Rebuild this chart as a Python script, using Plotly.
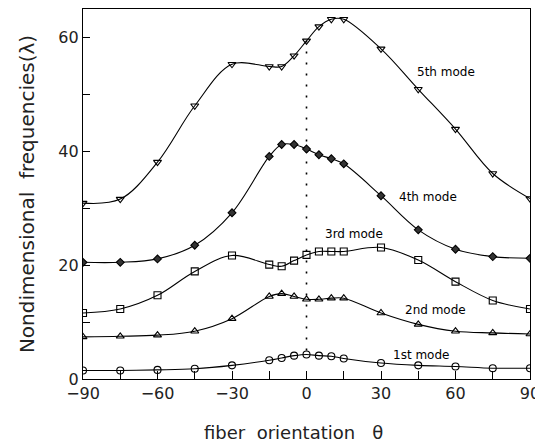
import plotly.graph_objects as go

theta = [-90, -75, -60, -45, -30, -15, -10, -5, 0, 5, 10, 15, 30, 45, 60, 75, 90]

mode1 = [1.5, 1.5, 1.6, 1.8, 2.4, 3.3, 3.7, 4.1, 4.3, 4.1, 4.0, 3.6, 2.8, 2.4, 2.2, 1.9, 1.9]
mode2 = [7.4, 7.5, 7.7, 8.4, 10.6, 14.5, 15.0, 14.5, 14.0, 14.0, 14.2, 14.2, 11.6, 9.6, 8.4, 8.1, 7.9]
mode3 = [11.6, 12.3, 14.7, 18.9, 21.7, 20.1, 19.8, 20.8, 21.8, 22.4, 22.4, 22.4, 23.1, 20.9, 17.1, 13.8, 12.3]
mode4 = [20.5, 20.5, 21.1, 23.5, 29.2, 39.1, 41.2, 41.2, 40.4, 39.4, 38.7, 37.8, 32.2, 26.2, 22.8, 21.5, 21.2]
mode5 = [30.9, 31.6, 38.1, 48.0, 55.3, 54.9, 54.9, 56.8, 59.4, 61.9, 63.2, 63.2, 58.0, 50.9, 43.9, 36.1, 31.7]

series = [
    ("1st mode", mode1, "circle-open"),
    ("2nd mode", mode2, "triangle-up-open"),
    ("3rd mode", mode3, "square-open"),
    ("4th mode", mode4, "diamond"),
    ("5th mode", mode5, "triangle-down-open"),
]

label_x = [46, 52, 19, 49, 56]
label_y = [4.2, 12.2, 25.5, 32.0, 54.0]

ref_angle = 0
ref_span = [5, 61]

x_title = "fiber  orientation   \u03b8"
y_title = "Nondimensional  frequencies(\u03bb)"

x_tickvals = [-90, -75, -60, -45, -30, -15, 0, 15, 30, 45, 60, 75, 90]
x_ticktext = ["\u221290", "", "\u221260", "", "\u221230", "", "0", "", "30", "", "60", "", "90"]
y_tickvals = [0, 10, 20, 30, 40, 50, 60]
y_ticktext = ["0", "", "20", "", "40", "", "60"]

FONT = "DejaVu Sans, Verdana, sans-serif"

fig = go.Figure()

fig.add_trace(go.Scatter(
    x=[ref_angle, ref_angle], y=ref_span, mode="lines",
    line=dict(color="black", width=1.6, dash="2px,9px"),
    showlegend=False, hoverinfo="skip"))

for name, vals, sym in series:
    fig.add_trace(go.Scatter(
        x=theta, y=vals, mode="lines+markers", name=name,
        line=dict(color="black", width=1.1, shape="spline", smoothing=1.0),
        marker=dict(symbol=sym, size=7 if sym != "diamond" else 6,
                    color="#333333" if sym == "diamond" else "black",
                    line=dict(color="black", width=1.1)),
        showlegend=False))

for (name, _, _), lx, ly in zip(series, label_x, label_y):
    fig.add_annotation(x=lx, y=ly, text=name, showarrow=False,
                       font=dict(family=FONT, size=12, color="black"),
                       xanchor="center", yanchor="middle")

fig.add_annotation(x=0.472, y=-0.145, xref="paper", yref="paper", text=x_title,
                   showarrow=False, xanchor="center", yanchor="middle",
                   font=dict(family=FONT, size=18, color="#222"))

fig.update_xaxes(range=[-90, 90], tickvals=x_tickvals, ticktext=x_ticktext,
                 ticks="inside", ticklen=8, tickwidth=1, tickcolor="black",
                 showline=True, linecolor="black", linewidth=1.2, mirror=True,
                 showgrid=False, zeroline=False, ticklabeloverflow="allow",
                 tickfont=dict(family=FONT, size=16, color="#222"))
fig.update_yaxes(range=[0, 65], tickvals=y_tickvals, ticktext=y_ticktext,
                 ticks="inside", ticklen=7, tickwidth=1, tickcolor="black",
                 showline=True, linecolor="black", linewidth=1.2, mirror=True,
                 showgrid=False, zeroline=False,
                 tickfont=dict(family=FONT, size=16, color="#222"),
                 title=dict(text=y_title, standoff=18,
                            font=dict(family=FONT, size=20, color="#222")))

fig.update_layout(width=535, height=438, paper_bgcolor="white", plot_bgcolor="white",
                  margin=dict(l=75, r=13, t=1, b=67))

fig.write_html("out.html")
